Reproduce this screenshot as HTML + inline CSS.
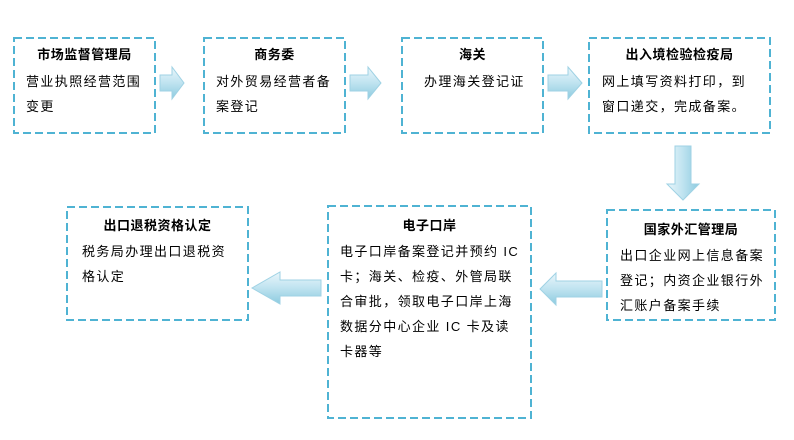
<!DOCTYPE html>
<html><head><meta charset="utf-8"><style>
body{margin:0;width:794px;height:440px;background:#fff;position:relative;overflow:hidden;font-family:"Liberation Sans","Noto Sans CJK SC","WenQuanYi Zen Hei",sans-serif;font-size:13px;color:#000}
.t{position:absolute;line-height:25px;white-space:nowrap;letter-spacing:1.4px}
.h{font-weight:bold;text-align:center;position:absolute;line-height:20px;letter-spacing:0.5px}
</style></head><body>
<svg width="794" height="440" style="position:absolute;left:0;top:0">
<defs>
<linearGradient id="gh" x1="0" y1="0" x2="0" y2="1"><stop offset="0" stop-color="#eaf6fb"/><stop offset="0.5" stop-color="#bfe3f0"/><stop offset="1" stop-color="#8ccbe0"/></linearGradient>
<linearGradient id="gv" x1="0" y1="0" x2="1" y2="0"><stop offset="0" stop-color="#eaf6fb"/><stop offset="0.5" stop-color="#bfe3f0"/><stop offset="1" stop-color="#8ccbe0"/></linearGradient>
</defs>
<g fill="none" stroke="#4fb3d3" stroke-width="2" stroke-dasharray="8,4">
<rect x="14" y="38" width="141" height="95"/>
<rect x="204" y="38" width="141" height="95"/>
<rect x="402" y="38" width="141" height="95"/>
<rect x="589" y="38" width="181" height="95"/>
<rect x="607" y="210" width="168" height="110"/>
<rect x="328" y="206" width="203" height="212"/>
<rect x="67" y="207" width="181" height="113"/>
</g>
<g fill="url(#gh)" stroke="#9fd2e4" stroke-width="1">
<polygon points="160,75 172,75 172,67 184,83 172,99 172,91 160,91"/>
<polygon points="350,75 368,75 368,67 381,83 368,99 368,91 350,91"/>
<polygon points="548,75 568,75 568,67 582,83 568,99 568,91 548,91"/>
<polygon points="602,281 556,281 556,273 540,289 556,305 556,297 602,297"/>
<polygon points="321,280 280,280 280,272 252,288 280,304 280,296 321,296"/>
</g>
<polygon fill="url(#gv)" stroke="#9fd2e4" points="675,146 691,146 691,184 699,184 683,200 667,184 675,184"/>
</svg>
<div class="h" style="left:14px;top:45px;width:141px">市场监督管理局</div>
<div class="t" style="left:26px;top:69px">营业执照经营范围<br>变更</div>
<div class="h" style="left:204px;top:45px;width:141px">商务委</div>
<div class="t" style="left:216px;top:69px">对外贸易经营者备<br>案登记</div>
<div class="h" style="left:402px;top:45px;width:141px">海关</div>
<div class="t" style="left:424px;top:69px">办理海关登记证</div>
<div class="h" style="left:589px;top:45px;width:181px">出入境检验检疫局</div>
<div class="t" style="left:602px;top:69px">网上填写资料打印，到<br>窗口递交，完成备案。</div>
<div class="h" style="left:607px;top:220px;width:168px">国家外汇管理局</div>
<div class="t" style="left:620px;top:243px">出口企业网上信息备案<br>登记；内资企业银行外<br>汇账户备案手续</div>
<div class="h" style="left:328px;top:216px;width:203px">电子口岸</div>
<div class="t" style="left:340px;top:239px">电子口岸备案登记并预约 IC<br>卡；海关、检疫、外管局联<br>合审批，领取电子口岸上海<br>数据分中心企业 IC 卡及读<br>卡器等</div>
<div class="h" style="left:67px;top:216px;width:181px">出口退税资格认定</div>
<div class="t" style="left:82px;top:239px">税务局办理出口退税资<br>格认定</div>
</body></html>
